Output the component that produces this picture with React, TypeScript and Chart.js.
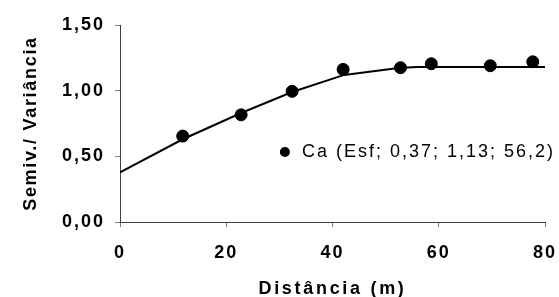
import React, { useEffect, useRef } from "react";
import { Chart, registerables } from "chart.js";

Chart.register(...registerables);

// Experimental semivariogram (lag distance, semivariance/variance)
const lagDistances = [11.8, 22.8, 32.4, 42.0, 52.8, 58.6, 69.7, 77.7];
const semivariances = [0.654, 0.816, 0.995, 1.162, 1.175, 1.205, 1.19, 1.22];

// Fitted spherical model
const modelDistances = [0, 11.8, 22.8, 32.4, 42.2, 52.8, 56.2, 80];
const modelValues = [0.377, 0.63, 0.83, 0.99, 1.12, 1.175, 1.18, 1.18];

const seriesLabel = "Ca (Esf; 0,37; 1,13; 56,2)";
const xTitle = "Distância (m)";
const yTitle = "Semiv./ Variância";
const xTicks = [0, 20, 40, 60, 80];
const yTicks = [0, 0.5, 1.0, 1.5];

const FONT = "'Liberation Sans', Arial, Helvetica, sans-serif";
const SPACING = "2px";

function wrapTitle(scale: any, spacing: string) {
  if (!scale || scale.__wrappedTitle) return;
  const orig = scale.drawTitle.bind(scale);
  scale.drawTitle = function () {
    const c = scale.ctx;
    const prev = c.letterSpacing;
    c.letterSpacing = spacing;
    orig();
    c.letterSpacing = prev;
  };
  scale.__wrappedTitle = true;
}

const spacingPlugin = {
  id: "spacing",
  beforeLayout(chart: any) {
    chart.ctx.letterSpacing = SPACING;
  },
  afterLayout(chart: any) {
    wrapTitle(chart.scales.x, "2.7px");
    wrapTitle(chart.scales.y, "1.7px");
  },
  beforeDraw(chart: any) {
    chart.ctx.letterSpacing = SPACING;
  },
};

const legendPlugin = {
  id: "insideLegend",
  afterDraw(chart: any) {
    const { ctx, chartArea } = chart;
    const w = chartArea.right - chartArea.left;
    const h = chartArea.bottom - chartArea.top;
    const mx = chartArea.left + w * 0.388;
    const my = chartArea.top + h * 0.645;
    ctx.save();
    ctx.letterSpacing = SPACING;
    ctx.fillStyle = "#000";
    ctx.beginPath();
    ctx.arc(mx, my, 5, 0, Math.PI * 2);
    ctx.fill();
    ctx.font = `18px ${FONT}`;
    ctx.textBaseline = "middle";
    ctx.textAlign = "left";
    ctx.fillText(chart.data.datasets[0].label, mx + 17, my);
    ctx.restore();
  },
};

export default function App() {
  const ref = useRef<HTMLCanvasElement | null>(null);

  useEffect(() => {
    if (!ref.current) return;
    const chart = new Chart(ref.current, {
      type: "scatter",
      data: {
        datasets: [
          {
            label: seriesLabel,
            data: lagDistances.map((d, i) => ({ x: d, y: semivariances[i] })),
            backgroundColor: "#000",
            borderColor: "#000",
            pointRadius: 6,
            pointHoverRadius: 6,
            showLine: false,
          },
          {
            label: "model",
            data: modelDistances.map((d, i) => ({ x: d, y: modelValues[i] })),
            borderColor: "#000",
            backgroundColor: "#000",
            borderWidth: 2,
            pointRadius: 0,
            showLine: true,
            tension: 0,
          },
        ],
      },
      options: {
        responsive: false,
        animation: false,
        events: [],
        layout: { padding: { left: 0, top: 25, right: 14, bottom: 0 } },
        plugins: {
          legend: { display: false },
          tooltip: { enabled: false },
        },
        scales: {
          x: {
            type: "linear",
            min: 0,
            max: 80,
            afterBuildTicks: (s: any) => {
              s.ticks = xTicks.map((v) => ({ value: v }));
            },
            afterFit: (s: any) => {
              s.height = 75;
              s.paddingLeft = 0;
              s.paddingRight = 0;
            },
            grid: {
              drawOnChartArea: false,
              drawTicks: true,
              tickLength: 5,
              color: "#808080",
            },
            border: { display: true, color: "#404040", width: 1 },
            ticks: {
              padding: 15,
              color: "#000",
              font: { family: FONT, size: 18, weight: "bold" },
              maxRotation: 0,
            },
            title: {
              display: true,
              text: xTitle,
              color: "#000",
              font: { family: FONT, size: 18, weight: "bold" },
              padding: { top: 0, bottom: -3 },
            },
          },
          y: {
            type: "linear",
            min: 0,
            max: 1.5,
            afterBuildTicks: (s: any) => {
              s.ticks = yTicks.map((v) => ({ value: v }));
            },
            afterFit: (s: any) => {
              s.width = 120;
            },
            grid: {
              drawOnChartArea: false,
              drawTicks: true,
              tickLength: 5,
              color: "#808080",
            },
            border: { display: true, color: "#404040", width: 1 },
            ticks: {
              padding: 10,
              color: "#000",
              font: { family: FONT, size: 18, weight: "bold" },
              callback: (v: any) => Number(v).toFixed(2).replace(".", ","),
            },
            title: {
              display: true,
              text: yTitle,
              color: "#000",
              font: { family: FONT, size: 18, weight: "bold" },
              padding: { top: 20, bottom: 0 },
            },
          },
        },
      },
      plugins: [spacingPlugin, legendPlugin],
    });
    return () => chart.destroy();
  }, []);

  return (
    <div style={{ position: "fixed", left: 0, top: 0, width: 559, height: 297, background: "#fff" }}>
      <canvas ref={ref} width={559} height={297} style={{ display: "block", width: 559, height: 297 }} />
    </div>
  );
}
